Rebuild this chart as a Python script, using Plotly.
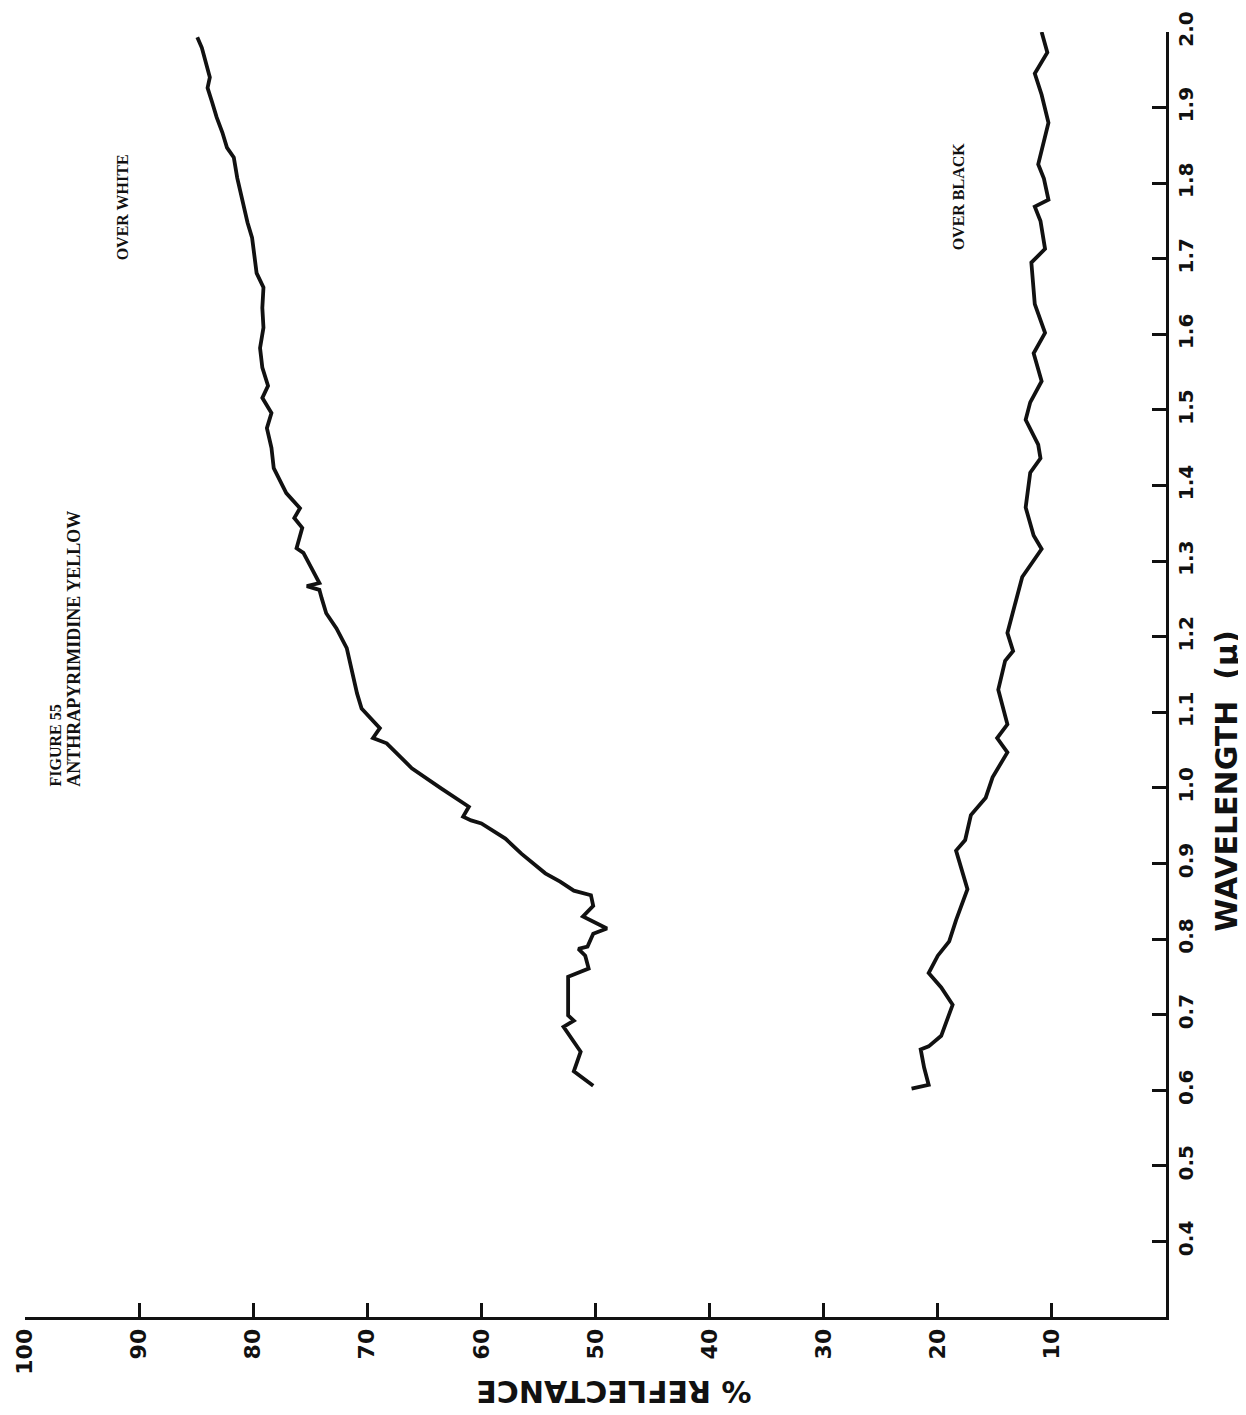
import plotly.graph_objects as go

# 스캔된 도표가 90° 돌아가 있으므로 그대로 재현: 가로축 = 반사율(100→0), 세로축 = 파장
WL_WHITE = [0.606, 0.615, 0.625, 0.651, 0.684, 0.692, 0.699, 0.717, 0.750, 0.761,
            0.778, 0.787, 0.790, 0.807, 0.814, 0.830, 0.844, 0.858, 0.864, 0.876,
            0.887, 0.913, 0.933, 0.953, 0.957, 0.962, 0.975, 0.999, 1.013, 1.026,
            1.059, 1.066, 1.079, 1.105, 1.125, 1.158, 1.185, 1.211, 1.231, 1.251,
            1.262, 1.267, 1.271, 1.291, 1.311, 1.317, 1.344, 1.357, 1.370, 1.390,
            1.403, 1.423, 1.450, 1.476, 1.496, 1.516, 1.532, 1.556, 1.582, 1.609,
            1.635, 1.662, 1.681, 1.701, 1.728, 1.748, 1.781, 1.807, 1.834, 1.847,
            1.867, 1.887, 1.907, 1.926, 1.940, 1.960, 1.979, 1.993]
R_WHITE = [50.2, 51.0, 51.9, 51.3, 52.8, 51.9, 52.4, 52.4, 52.4, 50.6,
           50.9, 51.5, 50.7, 50.2, 49.0, 51.1, 50.2, 50.4, 51.9, 53.1,
           54.4, 56.5, 57.9, 60.0, 60.9, 61.6, 61.1, 63.5, 64.8, 66.1,
           68.3, 69.5, 68.9, 70.5, 70.9, 71.4, 71.8, 72.7, 73.6, 74.0,
           74.2, 75.3, 74.2, 74.9, 75.6, 76.2, 75.7, 76.4, 75.9, 77.1,
           77.5, 78.2, 78.4, 78.8, 78.4, 79.2, 78.7, 79.2, 79.4, 79.1,
           79.2, 79.1, 79.7, 79.9, 80.1, 80.5, 81.0, 81.4, 81.7, 82.3,
           82.7, 83.2, 83.6, 84.0, 83.8, 84.2, 84.5, 84.9]

WL_BLACK = [0.602, 0.607, 0.630, 0.654, 0.658, 0.672, 0.713, 0.736, 0.755, 0.778,
            0.797, 0.825, 0.866, 0.917, 0.931, 0.964, 0.987, 1.014, 1.047, 1.066,
            1.084, 1.130, 1.168, 1.181, 1.205, 1.279, 1.316, 1.334, 1.371, 1.417,
            1.436, 1.454, 1.487, 1.510, 1.538, 1.575, 1.602, 1.640, 1.695, 1.713,
            1.750, 1.769, 1.778, 1.806, 1.825, 1.880, 1.917, 1.945, 1.973, 2.000]
R_BLACK = [22.3, 20.8, 21.2, 21.5, 20.8, 19.7, 18.7, 19.7, 20.8, 20.0,
           19.0, 18.4, 17.4, 18.4, 17.6, 17.1, 15.8, 15.2, 13.9, 14.8,
           13.9, 14.7, 14.1, 13.4, 13.9, 12.6, 10.9, 11.6, 12.3, 11.9,
           11.0, 11.2, 12.3, 11.9, 10.9, 11.6, 10.6, 11.5, 11.8, 10.6,
           11.0, 11.5, 10.3, 10.7, 11.2, 10.3, 10.9, 11.5, 10.4, 10.9]

R_TICKS = [100, 90, 80, 70, 60, 50, 40, 30, 20, 10]
WL_TICKS = [0.4, 0.5, 0.6, 0.7, 0.8, 0.9, 1.0, 1.1, 1.2, 1.3, 1.4, 1.5, 1.6, 1.7, 1.8, 1.9, 2.0]
WL_LABELS = ["0.4", "0.5", "0.6", "0.7", "0.8", "0.9", "1.0", "1.1", "1.2", "1.3",
             "1.4", "1.5", "1.6", "1.7", "1.8", "1.9", "2.0"]

INK = "#111111"
SANS = dict(family="DejaVu Sans", color=INK, weight="bold")
TYPE = dict(family="Liberation Serif", color=INK, weight="bold")


def _curve(r, wl, name):
    return go.Scatter(x=r, y=wl, mode="lines", name=name,
                      line=dict(color=INK, width=3.8), showlegend=False)


fig = go.Figure([_curve(R_WHITE, WL_WHITE, "over white"),
                 _curve(R_BLACK, WL_BLACK, "over black")])

# 페이지 여백(약 10px) 감안
fig.update_layout(
    width=1246, height=1415, margin=dict(l=17, r=88, t=24, b=106, autoexpand=False),
    paper_bgcolor="white", plot_bgcolor="white",
)
fig.update_xaxes(
    range=[100, 0], tickvals=R_TICKS, ticks="inside", ticklen=14, tickwidth=3,
    tickcolor=INK, showline=True, linewidth=3, linecolor=INK, showgrid=False,
    zeroline=False, tickangle=-90, tickfont=dict(size=22, **SANS),
    ticklabeloverflow="allow",
)
fig.update_yaxes(
    range=[0.3, 2.0], side="right", tickvals=WL_TICKS, ticktext=WL_LABELS,
    ticks="inside", ticklen=14, tickwidth=3, tickcolor=INK, showline=True,
    linewidth=3, linecolor=INK, showgrid=False, zeroline=False, tickangle=-90,
    tickfont=dict(size=20, **SANS), ticklabeloverflow="allow",
)

# 축 제목 (스캔 방향 그대로: 반사율 제목은 뒤집힘)
fig.add_annotation(text="% REFLECTANCE", xref="paper", yref="paper", x=0.516, y=-0.058,
                   xanchor="center", yanchor="middle", textangle=180, showarrow=False,
                   font=dict(size=30, **SANS))
fig.add_annotation(text="WAVELENGTH  (μ)", xref="paper", yref="paper", x=1.053, y=0.417,
                   xanchor="center", yanchor="middle", textangle=-90, showarrow=False,
                   font=dict(size=30, **SANS))

# 타자 글씨 라벨
fig.add_annotation(text="FIGURE 55", x=97.3, y=0.999, yanchor="bottom",
                   textangle=-90, showarrow=False, font=dict(size=16, **TYPE))
fig.add_annotation(text="ANTHRAPYRIMIDINE YELLOW", x=95.7, y=0.999, yanchor="bottom",
                   textangle=-90, showarrow=False, font=dict(size=18, **TYPE))
fig.add_annotation(text="OVER WHITE", x=91.5, y=1.768, textangle=-90,
                   showarrow=False, font=dict(size=16, **TYPE))
fig.add_annotation(text="OVER BLACK", x=18.2, y=1.783, textangle=-90,
                   showarrow=False, font=dict(size=16, **TYPE))

fig.write_html("out.html")
